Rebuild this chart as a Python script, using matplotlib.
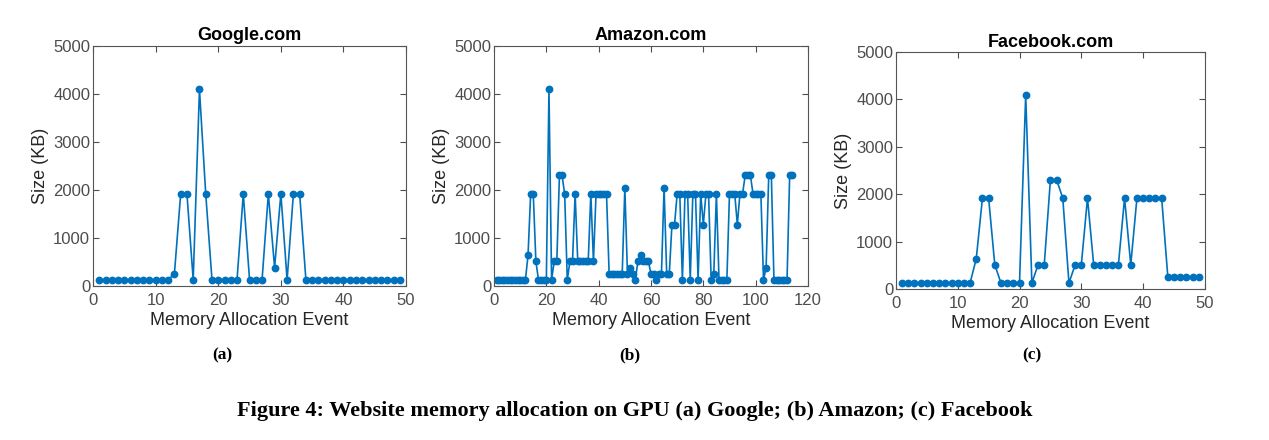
# GPU memory allocation per website
import numpy as np
import matplotlib.pyplot as plt

#-------------------------------------------------------------------------------------------------------------------------------------

google_sizes = [128]*12 + [256, 1920, 1920, 128, 4096, 1920] + [128]*5 + [1920] + [128]*3 + \
	[1920, 384, 1920, 128, 1920, 1920] + [128]*16

amazon_sizes = [128]*12 + [640, 1920, 1920, 512] + [128]*4 + [4096, 128, 512, 512, 2304, 2304, 1920, 128,
	512, 512, 1920] + [512]*5 + [1920, 512] + [1920]*5 + [256]*6 + [2048, 256, 384, 256, 128, 512, 640,
	512, 512, 512, 256, 256, 128, 256, 256, 2048, 256, 256, 1280, 1280, 1920, 1920, 128, 1920, 1920, 128,
	1920, 1920, 128, 1920, 1280, 1920, 1920, 128, 256, 1920] + [128]*4 + [1920, 1920, 1920, 1280, 1920,
	1920, 2304, 2304, 2304, 1920, 1920, 1920, 1920, 128, 384, 2304, 2304] + [128]*6 + [2304, 2304]

facebook_sizes = [128]*12 + [640, 1920, 1920, 512] + [128]*4 + [4096, 128, 512, 512, 2304, 2304, 1920,
	128, 512, 512, 1920] + [512]*5 + [1920, 512] + [1920]*5 + [256]*6

titles = ['Google.com', 'Amazon.com', 'Facebook.com']
subcaptions = ['(a)', '(b)', '(c)']
x_limits = [50, 120, 50]
caption = 'Figure 4: Website memory allocation on GPU (a) Google; (b) Amazon; (c) Facebook'

#-------------------------------------------------------------------------------------------------------------------------------------

def draw_panel(fig, rect, sizes, title, xmax):
	ax = fig.add_axes(rect)
	events = np.arange(1, len(sizes) + 1)
	ax.plot(events, sizes, c='#0072BD', marker='o', markersize=4.6, linewidth=1.2)
	ax.set_xlim(0, xmax)
	ax.set_ylim(0, 5000)
	ax.set_yticks([0, 1000, 2000, 3000, 4000, 5000])
	ax.set_title(title, fontsize=13, fontweight='bold', pad=4)
	ax.set_xlabel('Memory Allocation Event', fontsize=13, color='#262626', labelpad=3)
	ax.set_ylabel('Size (KB)', fontsize=13, color='#262626', labelpad=3)
	ax.tick_params(direction='in', top=True, right=True, labelsize=12, colors='#4d4d4d',
		length=4, width=0.8, pad=2)
	ax.tick_params(axis='x', pad=5)
	for spine in ax.spines.values():
		spine.set_color('#555555')
		spine.set_linewidth(0.8)
	return ax

#-------------------------------------------------------------------------------------------------------------------------------------

def main():
	plt.rcParams['font.family'] = ['Liberation Sans', 'DejaVu Sans']
	fig = plt.figure(figsize=(12.69, 4.40), dpi=100)

	rects = [[0.0733, 0.35, 0.2467, 0.5455],
		[0.3893, 0.35, 0.2474, 0.5455],
		[0.7060, 0.343, 0.2435, 0.5386]]
	sub_x = [222, 630, 1032]
	all_sizes = [google_sizes, amazon_sizes, facebook_sizes]

	for rect, sizes, title, xmax in zip(rects, all_sizes, titles, x_limits):
		draw_panel(fig, rect, sizes, title, xmax)

	# sub captions sit at a fixed height under the panels
	for sx, sub in zip(sub_x, subcaptions):
		fig.text(sx/1269, 1 - 355/440, sub, ha='center', va='center',
			fontsize=12.5, fontweight='bold', family='Liberation Serif')

	fig.text(0.5, 1 - 411/440, caption, ha='center', va='center', fontsize=16,
		fontweight='bold', family='Liberation Serif')
	fig.savefig('out.png', dpi=100)


if __name__ == '__main__':
	main()
